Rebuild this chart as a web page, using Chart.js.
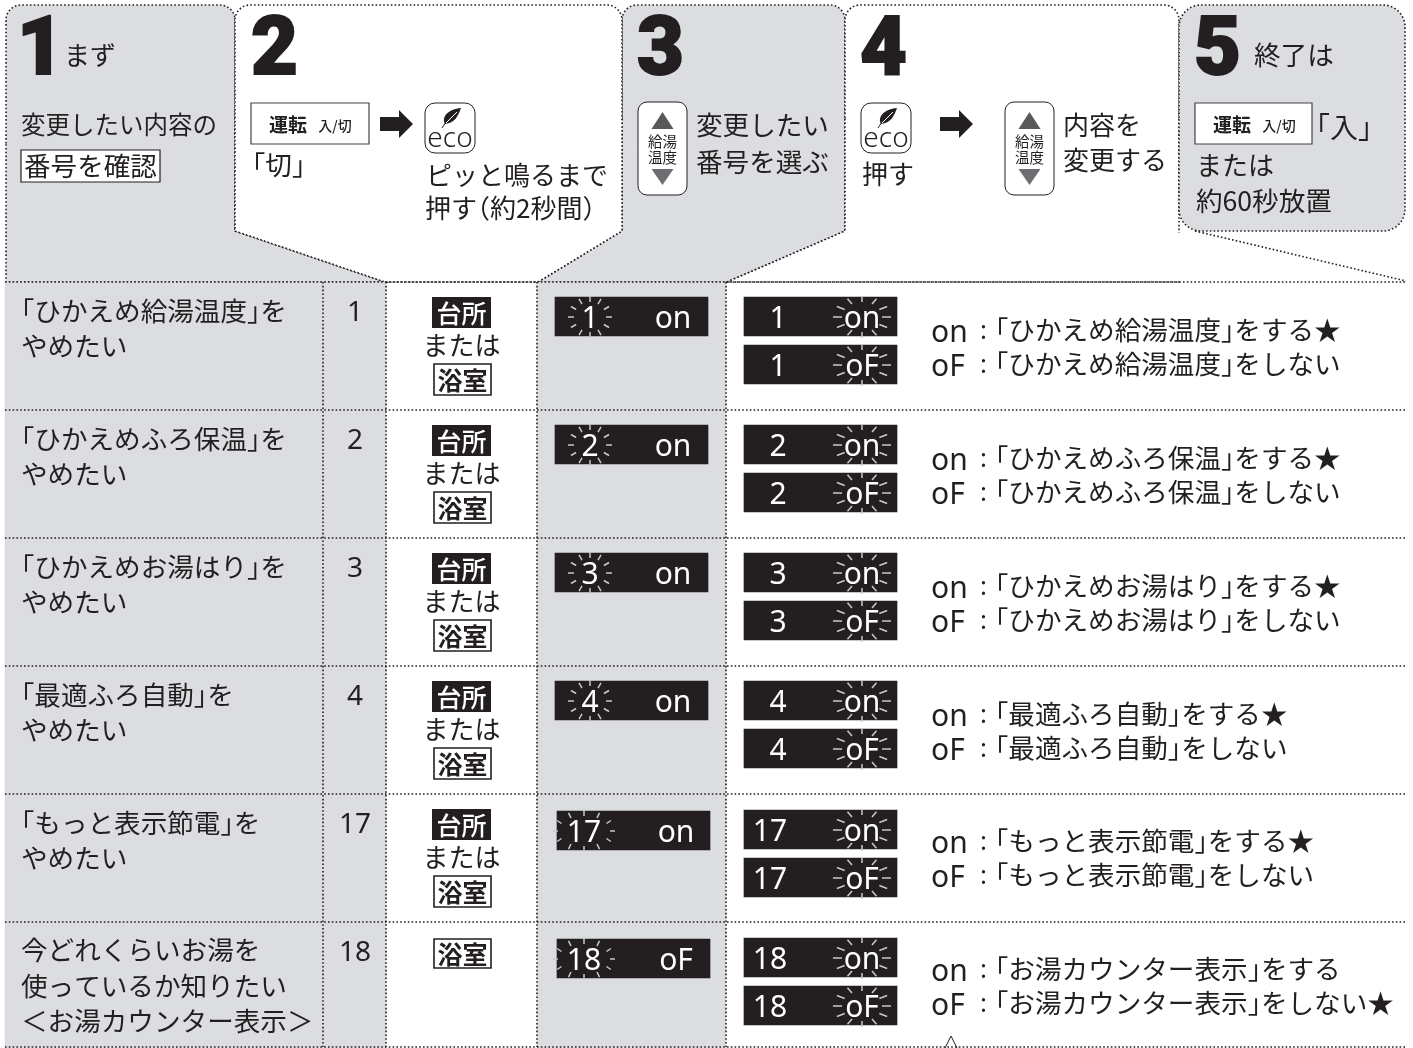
<!DOCTYPE html>
<html lang="ja">
<head>
<meta charset="utf-8">
<title>設定変更の手順</title>
<script src="https://cdn.jsdelivr.net/npm/chart.js@4/dist/chart.umd.js"></script>
<style>
  html, body { margin: 0; padding: 0; background: #fff; }
  canvas { display: block; }
</style>
</head>
<body>
<canvas id="stepsChart" width="1413" height="1048"></canvas>
<script>
// table content
const rowLabels = [
  ["「ひかえめ給湯温度」を", "やめたい"],
  ["「ひかえめふろ保温」を", "やめたい"],
  ["「ひかえめお湯はり」を", "やめたい"],
  ["「最適ふろ自動」を", "やめたい"],
  ["「もっと表示節電」を", "やめたい"],
  ["今どれくらいお湯を", "使っているか知りたい", "＜お湯カウンター表示＞"]
];
const itemNumbers = ["1", "2", "3", "4", "17", "18"];
const settingNames = ["ひかえめ給湯温度", "ひかえめふろ保温", "ひかえめお湯はり", "最適ふろ自動", "もっと表示節電", "お湯カウンター表示"];
const currentState = ["on", "on", "on", "on", "on", "oF"];
const defaultState = ["on", "on", "on", "on", "on", "oF"];
const remoteTags = [["台所", "または", "浴室"], ["台所", "または", "浴室"], ["台所", "または", "浴室"], ["台所", "または", "浴室"], ["台所", "または", "浴室"], ["浴室"]];
const stateNames = ["on", "oF"];

// layout of the sheet, in sheet pixels
const rowTops = [282, 410, 538, 666, 794, 922];
const rowLines = [282, 410, 538, 666, 794, 922, 1047];
const columnLines = [323, 386, 537, 726];
const displayTops = [297, 425, 553, 681, 811, 939];
const settingTops = [297, 425, 553, 681, 810, 938];

const ink = "#231f20";
const gray = "#dcdde0";
const jp = "'Noto Sans CJK JP'";
const latin = "'Noto Sans'";

function dottedLine(points, width) {
  return {
    type: "line", data: points, borderColor: ink, borderWidth: width || 1.6,
    borderDash: [1.6, 2.2], pointRadius: 0, fill: false, tension: 0, order: 1
  };
}
function rangeBars(xs, tops, height, thickness, color, order) {
  return {
    type: "bar", data: xs.map((x, i) => ({ x: x, y: [tops[i], tops[i] + height] })),
    backgroundColor: color, barThickness: thickness, grouped: false, borderWidth: 0, order: order
  };
}

const datasets = [
  // gray columns of the table
  rangeBars([195.5], [282], 766, 381, gray, 3),
  rangeBars([631.5], [282], 766, 189, gray, 3),
  // lit displays
  rangeBars([631.5, 631.5, 631.5, 631.5, 633.5, 633.5], displayTops, 39, 153, ink, 2),
  rangeBars(settingTops.map(() => 820.5), settingTops, 39, 153, ink, 2),
  rangeBars(settingTops.map(() => 820.5), settingTops.map(t => t + 48), 39, 153, ink, 2)
];
rowLines.forEach(y => datasets.push(dottedLine([{ x: 5, y: y }, { x: 1406, y: y }])));
columnLines.forEach(x => datasets.push(dottedLine([{ x: x, y: 282 }, { x: x, y: 1047 }])));

function sx(chart, v) { return chart.scales.x.getPixelForValue(v); }
function sy(chart, v) { return chart.scales.y.getPixelForValue(v); }

// outline with optional rounded corners: pts are [x, y, radius]
function tracePath(chart, ctx, pts) {
  ctx.beginPath();
  const n = pts.length;
  const p0 = pts[n - 1], p1 = pts[0];
  ctx.moveTo(sx(chart, (p0[0] + p1[0]) / 2), sy(chart, (p0[1] + p1[1]) / 2));
  for (let i = 0; i < n; i++) {
    const a = pts[i], b = pts[(i + 1) % n];
    ctx.arcTo(sx(chart, a[0]), sy(chart, a[1]), sx(chart, (a[0] + b[0]) / 2), sy(chart, (a[1] + b[1]) / 2), a[2] || 0);
  }
  ctx.closePath();
}
function panel(chart, ctx, pts, fill) {
  tracePath(chart, ctx, pts);
  if (fill) { ctx.fillStyle = fill; ctx.fill(); }
  ctx.save();
  ctx.setLineDash([1.6, 2.2]);
  ctx.lineWidth = 1.6;
  ctx.strokeStyle = ink;
  ctx.stroke();
  ctx.restore();
}
function rect(chart, ctx, x, y, w, h, r, fill, stroke, lw) {
  tracePath(chart, ctx, [[x, y, r], [x + w, y, r], [x + w, y + h, r], [x, y + h, r]]);
  if (fill) { ctx.fillStyle = fill; ctx.fill(); }
  if (stroke) { ctx.strokeStyle = stroke; ctx.lineWidth = lw || 1; ctx.stroke(); }
}
function poly(chart, ctx, pts, fill) {
  ctx.beginPath();
  pts.forEach((p, i) => i ? ctx.lineTo(sx(chart, p[0]), sy(chart, p[1])) : ctx.moveTo(sx(chart, p[0]), sy(chart, p[1])));
  ctx.closePath();
  ctx.fillStyle = fill;
  ctx.fill();
}
function label(chart, ctx, text, x, y, font, color, align) {
  ctx.font = font;
  ctx.fillStyle = color || ink;
  ctx.textAlign = align || "left";
  ctx.textBaseline = "middle";
  ctx.fillText(text, sx(chart, x), sy(chart, y));
}
// heavy step numerals
function stepDigit(chart, ctx, text, x) {
  label(chart, ctx, text, x, 54, "900 81px Roboto");
  ctx.strokeStyle = ink;
  ctx.lineWidth = 2;
  ctx.lineJoin = "miter";
  ctx.strokeText(text, sx(chart, x), sy(chart, 54));
}
// Japanese line with proportional brackets
function jpLine(chart, ctx, text, x, y, size, color) {
  const font = size + "px " + jp;
  ctx.font = font;
  const chunks = text.match(/[「（][^」）]*[」）]|[^「（]+/g);
  let cx = x;
  chunks.forEach(chunk => {
    const open = /^[「（]/.test(chunk);
    if (open) cx -= size / 2;
    label(chart, ctx, chunk, cx, y, font, color);
    cx += ctx.measureText(chunk).width;
    if (open) cx -= size / 2;
  });
}
function arrow(chart, ctx, x, y) {
  poly(chart, ctx, [[x, y + 7], [x + 19, y + 7], [x + 19, y], [x + 33, y + 14], [x + 19, y + 28], [x + 19, y + 21], [x, y + 21]], ink);
}
function powerButton(chart, ctx, x, y, w) {
  rect(chart, ctx, x, y, w, 41, 0, "#fff", "#444", 1.2);
  label(chart, ctx, "運転", x + 37, y + 22, "700 19px " + jp, ink, "center");
  label(chart, ctx, "入/切", x + 84, y + 23, "500 14px " + jp, ink, "center");
}
function ecoButton(chart, ctx, x, y) {
  rect(chart, ctx, x, y, 50, 50, 10, "#fff", ink, 1);
  const lx = sx(chart, x + 25), ly = sy(chart, y);
  ctx.beginPath();
  ctx.moveTo(lx + 11, ly + 5);
  ctx.bezierCurveTo(lx - 2, ly + 6, lx - 9, ly + 14, lx - 5, ly + 21);
  ctx.bezierCurveTo(lx + 5, ly + 20, lx + 8, ly + 13, lx + 11, ly + 5);
  ctx.fillStyle = ink;
  ctx.fill();
  ctx.strokeStyle = ink;
  ctx.lineWidth = 1;
  ctx.beginPath();
  ctx.moveTo(lx - 4, ly + 19);
  ctx.lineTo(lx - 8, ly + 25);
  ctx.stroke();
  ctx.strokeStyle = "#fff";
  ctx.beginPath();
  ctx.moveTo(lx + 7, ly + 9);
  ctx.lineTo(lx - 4, ly + 20);
  ctx.stroke();
  label(chart, ctx, "eco", x + 25, y + 36, "300 28px " + latin, ink, "center");
}
function tempButton(chart, ctx, x, y) {
  rect(chart, ctx, x, y, 49, 93, 9, "#fff", ink, 1);
  const c = x + 24.5;
  poly(chart, ctx, [[c, y + 10], [c + 11, y + 27], [c - 11, y + 27]], "#58595b");
  poly(chart, ctx, [[c - 11, y + 67], [c + 11, y + 67], [c, y + 83]], "#6d6e71");
  label(chart, ctx, "給湯", c, y + 39, "14.5px " + jp, ink, "center");
  label(chart, ctx, "温度", c, y + 55, "14.5px " + jp, ink, "center");
}
// blink marks round a display digit
const rayAngles = [0, 30, 60, 90, 120, 150, 180, 210, 240, 270, 300, 330];
function burst(chart, ctx, cx, cy, rx0, rx1, ry0, ry1) {
  ctx.strokeStyle = "#c9cacc";
  ctx.lineWidth = 1.5;
  rayAngles.forEach(a => {
    const c = Math.cos(a * Math.PI / 180), s = Math.sin(a * Math.PI / 180);
    ctx.beginPath();
    ctx.moveTo(sx(chart, cx + rx0 * c), sy(chart, cy + ry0 * s));
    ctx.lineTo(sx(chart, cx + rx1 * c), sy(chart, cy + ry1 * s));
    ctx.stroke();
  });
}

const sheetPlugin = {
  id: "sheet",
  beforeDatasetsDraw(chart) {
    const ctx = chart.ctx;
    const top = 5, bot = 231, tbl = 282;
    // gray panels first, white panels cut into them
    panel(chart, ctx, [[6, top, 15], [235, top, 15], [235, bot], [385, tbl], [6, tbl]], gray);
    panel(chart, ctx, [[622, top, 15], [845, top, 15], [845, bot], [727, tbl], [538, tbl], [622, bot]], gray);
    panel(chart, ctx, [[235, top, 15], [622, top, 15], [622, bot], [538, tbl], [385, tbl], [235, bot]], "#fff");
    panel(chart, ctx, [[845, top, 15], [1179, top, 15], [1179, bot], [1179, tbl], [727, tbl], [845, bot]], "#fff");
    panel(chart, ctx, [[1179, top, 22], [1405, top, 22], [1405, bot, 22], [1179, bot, 22]], gray);
    ctx.save();
    ctx.setLineDash([1.6, 2.2]);
    ctx.lineWidth = 1.6;
    ctx.strokeStyle = ink;
    ctx.beginPath();
    ctx.moveTo(sx(chart, 1195), sy(chart, bot));
    ctx.lineTo(sx(chart, 1406), sy(chart, 281));
    ctx.stroke();
    ctx.restore();
    // hide the seam of the white panel 4 edge below the corner
    rect(chart, ctx, 1176, bot + 2, 6, 48, 0, "#fff");
  },
  afterDatasetsDraw(chart) {
    const ctx = chart.ctx;
    ctx.save();
    ctx.setLineDash([]);
    stepDigit(chart, ctx, "1", 17);
    stepDigit(chart, ctx, "2", 251);
    stepDigit(chart, ctx, "3", 637);
    stepDigit(chart, ctx, "4", 860);
    stepDigit(chart, ctx, "5", 1194);

    const body = 26.6;
    label(chart, ctx, "まず", 64, 55, "26px " + jp);
    label(chart, ctx, "変更したい内容の", 21, 125, "24.5px " + jp);
    rect(chart, ctx, 21, 150, 139, 32, 0, "#fff", ink, 1.2);
    label(chart, ctx, "番号を確認", 24, 166, "26.6px " + jp);

    powerButton(chart, ctx, 251, 103, 118);
    arrow(chart, ctx, 380, 110);
    ecoButton(chart, ctx, 425, 103);
    jpLine(chart, ctx, "「切」", 252, 165, body);
    label(chart, ctx, "ピッと鳴るまで", 426, 175, "26px " + jp);
    jpLine(chart, ctx, "押す（約2秒間）", 425, 208, 26);

    tempButton(chart, ctx, 638, 102);
    label(chart, ctx, "変更したい", 696, 125, "26.6px " + jp);
    label(chart, ctx, "番号を選ぶ", 696, 162, "26.6px " + jp);

    ecoButton(chart, ctx, 861, 103);
    label(chart, ctx, "押す", 862, 174, "26px " + jp);
    arrow(chart, ctx, 940, 110);
    tempButton(chart, ctx, 1005, 102);
    label(chart, ctx, "内容を", 1063, 125, "26px " + jp);
    label(chart, ctx, "変更する", 1063, 160, "26px " + jp);

    label(chart, ctx, "終了は", 1254, 55, "26.6px " + jp);
    powerButton(chart, ctx, 1195, 103, 117);
    jpLine(chart, ctx, "「入」", 1316, 127, 28);
    label(chart, ctx, "または", 1196, 165, "26px " + jp);
    label(chart, ctx, "約60秒放置", 1196, 201, "26.6px " + jp);

    rowTops.forEach((t, i) => {
      const lineY = i === 5 ? [t + 28, t + 64, t + 99] : [t + 29, t + 64];
      rowLabels[i].forEach((line, k) => jpLine(chart, ctx, line, 21, lineY[k], body));
      label(chart, ctx, itemNumbers[i], 355, t + 31, "28px " + latin, ink, "center");

      // remote tags
      const tags = remoteTags[i];
      if (tags.length === 3) {
        rect(chart, ctx, 432, t + 15, 59, 31, 0, ink);
        label(chart, ctx, tags[0], 461.5, t + 31, "500 25px " + jp, "#fff", "center");
        label(chart, ctx, tags[1], 461.5, t + 63, "26px " + jp, ink, "center");
        rect(chart, ctx, 434, t + 82, 57, 31, 0, "#fff", ink, 1.6);
        label(chart, ctx, tags[2], 462.5, t + 98, "700 25px " + jp, ink, "center");
      } else {
        rect(chart, ctx, 434, t + 17, 57, 29, 0, "#fff", ink, 1.6);
        label(chart, ctx, tags[0], 462.5, t + 32, "700 25px " + jp, ink, "center");
      }

      // step 3 display
      const dy = displayTops[i] + 20;
      const digitX = i > 3 ? 584 : 590;
      burst(chart, ctx, digitX, dy, i > 3 ? 26 : 16, i > 3 ? 31 : 22, 15, 21);
      label(chart, ctx, itemNumbers[i], digitX, dy + 2, "30px " + latin, "#fff", "center");
      label(chart, ctx, currentState[i], i > 3 ? 676 : 673, dy + 2, "30px " + latin, "#fff", "center");

      // step 4 displays and explanation
      stateNames.forEach((state, k) => {
        const sy0 = settingTops[i] + 48 * k + 20;
        burst(chart, ctx, 862, sy0, 20, 29, 15, 21);
        label(chart, ctx, itemNumbers[i], i > 3 ? 770 : 778, sy0 + 2, "30px " + latin, "#fff", "center");
        label(chart, ctx, state, 862, sy0 + 2, "30px " + latin, "#fff", "center");

        const ty = t + (i > 3 ? 48 : 49) + 34 * k;
        label(chart, ctx, state, 931, ty + 2, "30px " + latin);
        label(chart, ctx, ":", 980, ty + 1, "26px " + latin);
        const tail = (state === "on" ? "をする" : "をしない") + (defaultState[i] === state ? "★" : "");
        jpLine(chart, ctx, "「" + settingNames[i] + "」" + tail, 995, ty - 1, body);
      });
    });

    // pointer at the foot of the sheet
    ctx.strokeStyle = ink;
    ctx.lineWidth = 1;
    ctx.beginPath();
    ctx.moveTo(sx(chart, 945), sy(chart, 1048));
    ctx.lineTo(sx(chart, 951), sy(chart, 1036));
    ctx.lineTo(sx(chart, 957), sy(chart, 1048));
    ctx.stroke();
    ctx.restore();
  }
};

new Chart(document.getElementById("stepsChart").getContext("2d"), {
  type: "bar",
  data: { datasets: datasets },
  plugins: [sheetPlugin],
  options: {
    responsive: false,
    animation: false,
    events: [],
    layout: { padding: 0 },
    plugins: { legend: { display: false }, tooltip: { enabled: false }, title: { display: false } },
    scales: {
      x: { type: "linear", min: 0, max: 1413, display: false, offset: false },
      y: { type: "linear", min: 0, max: 1048, reverse: true, display: false }
    }
  }
});
</script>
</body>
</html>
